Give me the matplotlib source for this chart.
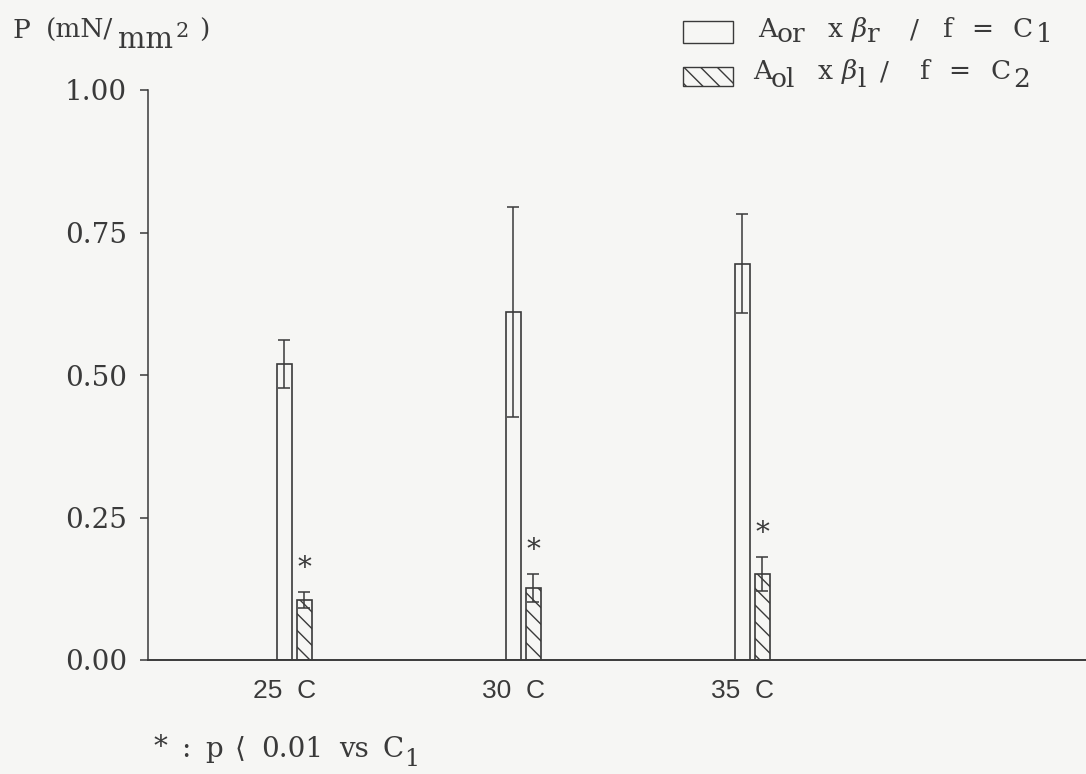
"""Bar chart: P (mN/mm2) at 25/30/35 C for C1 and C2, with SD error bars."""

import numpy as np
import matplotlib
matplotlib.use("Agg")
import matplotlib.pyplot as plt
from matplotlib.patches import Rectangle

# ---------------------------------------------------------------------------
# data
# ---------------------------------------------------------------------------
temps = ["25  C", "30  C", "35  C"]
c1 = [0.519, 0.611, 0.695]          # A_or x beta_r / f
c1_err = [0.042, 0.184, 0.087]
c2 = [0.105, 0.126, 0.151]          # A_ol x beta_l / f
c2_err = [0.014, 0.025, 0.030]
yticks = [0.00, 0.25, 0.50, 0.75, 1.00]

W, H = 1086, 774
INK = "#3a3a3a"
PAPER = "#f6f6f4"
HATCH = "\\\\"

plt.rcParams["font.family"] = ["DejaVu Serif"]
plt.rcParams["mathtext.fontset"] = "dejavuserif"
plt.rcParams["hatch.linewidth"] = 1.0
plt.rcParams["hatch.color"] = INK

fig = plt.figure(figsize=(W / 100, H / 100), dpi=100, facecolor=PAPER)
ax = fig.add_axes([148 / W, 114 / H, 1 - 148 / W, 570 / H])
ax.set_facecolor(PAPER)


def put(px, py, s, size=18):
    """text with its left baseline at pixel (px, py), y measured from the top"""
    fig.text(px / W, 1 - py / H, s, fontsize=size, color=INK,
             ha="left", va="baseline")


x = np.arange(len(temps))
w = 15 / 229           # bar width in group units
off = 20 / 229         # white -> hatched centre distance

ax.bar(x, c1, w, facecolor=PAPER, edgecolor=INK, lw=1.2, zorder=2)
ax.bar(x + off, c2, w, facecolor=PAPER, edgecolor=INK, lw=1.2, hatch=HATCH, zorder=2)
ax.errorbar(x, c1, yerr=c1_err, fmt="none", ecolor=INK, elinewidth=1.1,
            capsize=4, capthick=1.1, zorder=3)
ax.errorbar(x + off, c2, yerr=c2_err, fmt="none", ecolor=INK, elinewidth=1.1,
            capsize=4, capthick=1.1, zorder=3)

# significance stars above C2
for xi, v, e in zip(x + off, c2, c2_err):
    ax.annotate("*", (xi, v + e), xytext=(0, 7), textcoords="offset points",
                ha="center", va="bottom", fontsize=20, color=INK)

ax.set_xlim(-0.596, 3.5)
ax.set_ylim(0, 1.0)
ax.set_yticks(yticks)
ax.set_yticklabels([f"{t:.2f}" for t in yticks], fontsize=20, color=INK)
ax.tick_params(axis="y", direction="out", length=6, width=1.1, color=INK, pad=9)
ax.set_xticks(x)
ax.set_xticklabels(temps, fontsize=19, color=INK,
                   family=["Liberation Sans Narrow", "Liberation Sans", "DejaVu Sans"])
ax.tick_params(axis="x", length=0, pad=14)

for s in ("top", "right"):
    ax.spines[s].set_visible(False)
ax.spines["left"].set_color(INK)
ax.spines["left"].set_linewidth(1.1)
ax.spines["bottom"].set_color(INK)
ax.spines["bottom"].set_linewidth(1.4)

# y label in the top-left corner ("mm" dropped, "2" raised as in the original)
put(12, 38, "P", 19)
put(46, 38, "(mN/", 19)
put(118, 48, "mm", 21)
put(176, 37, "2", 15)
put(199, 38, ")", 19)

# legend, set by hand: the original subscripts are almost full size
fig.patches.append(Rectangle((683 / W, 1 - 43 / H), 50 / W, 22 / H,
                             transform=fig.transFigure, facecolor=PAPER,
                             edgecolor=INK, lw=1.0))
fig.patches.append(Rectangle((683 / W, 1 - 86 / H), 50 / W, 19 / H,
                             transform=fig.transFigure, facecolor=PAPER,
                             edgecolor=INK, lw=1.0, hatch=HATCH))
row1 = [(758, 37, "A"), (777, 42, "or"), (828, 37, "x"), (851, 37, r"$\beta$"),
        (867, 42, "r"), (910, 37, "/"), (943, 37, "f"), (971, 37, "="),
        (1013, 37, "C"), (1036, 42, "1")]
row2 = [(753, 79, "A"), (771, 87, "ol"), (818, 79, "x"), (841, 79, r"$\beta$"),
        (857, 87, "l"), (880, 79, "/"), (920, 79, "f"), (948, 79, "="),
        (991, 79, "C"), (1013, 87, "2")]
for px, py, s in row1 + row2:
    put(px, py, s, 19)

# footnote
put(154, 755, "*", 20)
put(181, 757, ":", 20)
put(205, 757, "p", 20)
put(234, 757, r"$\langle$", 20)
put(261, 757, "0.01", 20)
put(339, 757, "vs", 20)
put(382, 757, "C", 20)
put(404, 766, "1", 17)

fig.savefig("out.png", dpi=100, facecolor=PAPER)
